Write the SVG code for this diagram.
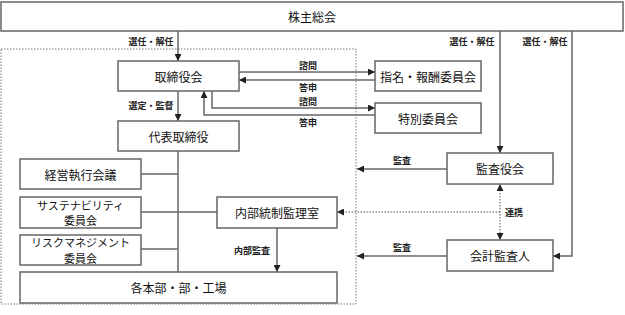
<svg xmlns="http://www.w3.org/2000/svg" width="625" height="315" viewBox="0 0 625 315">
<defs>
<marker id="ah" viewBox="0 0 10 10" refX="10" refY="5" markerWidth="7" markerHeight="7" markerUnits="userSpaceOnUse" orient="auto-start-reverse"><path d="M0,0 L10,5 L0,10 z" fill="#222"/></marker>
<style>
.box{fill:#fff;stroke:#666;stroke-width:1.5}
.t{font-family:"Noto Sans CJK JP","Noto Sans CJK SC",sans-serif;font-size:12px;fill:#111;text-anchor:middle;dominant-baseline:central}
.t2{font-size:11px}
.l{font-family:"Noto Sans CJK JP","Noto Sans CJK SC",sans-serif;font-size:9px;font-weight:bold;fill:#222;dominant-baseline:central}
.c{fill:none;stroke:#666;stroke-width:1.5}
.d{fill:none;stroke:#555;stroke-width:1;stroke-dasharray:1.5 1.5}
</style>
</defs>
<rect x="1" y="49" width="355" height="255" fill="none" stroke="#777" stroke-width="1" stroke-dasharray="1.5 1.5"/>
<g id="connectors">
<path class="c" d="M178,31 V61" marker-end="url(#ah)"/>
<path class="c" d="M178,91 V121" marker-end="url(#ah)"/>
<path class="c" d="M239,72 H375" marker-end="url(#ah)"/>
<path class="c" d="M375,80 H239" marker-end="url(#ah)"/>
<path class="c" d="M212,91 V108 H375" marker-end="url(#ah)"/>
<path class="c" d="M375,115 H204 V91" marker-end="url(#ah)"/>
<path class="c" d="M500,31 V153" marker-end="url(#ah)"/>
<path class="c" d="M572,31 V256 H553" marker-end="url(#ah)"/>
<path class="c" d="M447,169 H357" marker-end="url(#ah)"/>
<path class="c" d="M447,256 H357" marker-end="url(#ah)"/>
<path class="d" d="M500,184 V240" marker-start="url(#ah)" marker-end="url(#ah)"/>
<path class="d" d="M500,212 H337" marker-end="url(#ah)"/>
<path class="c" d="M178,151 V272"/>
<path class="c" d="M141,174 H178"/>
<path class="c" d="M141,212 H217"/>
<path class="c" d="M141,249 H178"/>
<path class="c" d="M277,228 V272" marker-end="url(#ah)"/>
<text class="l" x="151" y="41" text-anchor="middle">選任・解任</text>
<text class="l" x="151" y="105" text-anchor="middle">選定・監督</text>
<text class="l" x="308" y="65" text-anchor="middle">諮問</text>
<text class="l" x="308" y="87" text-anchor="middle">答申</text>
<text class="l" x="308" y="101" text-anchor="middle">諮問</text>
<text class="l" x="308" y="122" text-anchor="middle">答申</text>
<text class="l" x="472" y="41" text-anchor="middle">選任・解任</text>
<text class="l" x="545" y="41" text-anchor="middle">選任・解任</text>
<text class="l" x="402" y="160" text-anchor="middle">監査</text>
<text class="l" x="402" y="247" text-anchor="middle">監査</text>
<text class="l" x="514" y="212" text-anchor="middle">連携</text>
<text class="l" x="252" y="250" text-anchor="middle">内部監査</text>
</g>
<g id="shareholders"><rect class="box" x="1" y="2" width="622" height="29"/><text class="t" x="312" y="16.5">株主総会</text></g>
<g id="board"><rect class="box" x="118" y="61" width="121" height="30"/><text class="t" x="178.5" y="76">取締役会</text></g>
<g id="rep"><rect class="box" x="118" y="121" width="121" height="30"/><text class="t" x="178.5" y="136">代表取締役</text></g>
<g id="nomination"><rect class="box" x="375" y="61" width="106" height="30"/><text class="t" x="428" y="76">指名・報酬委員会</text></g>
<g id="special"><rect class="box" x="375" y="103" width="106" height="30"/><text class="t" x="428" y="118">特別委員会</text></g>
<g id="auditboard"><rect class="box" x="447" y="153" width="106" height="31"/><text class="t" x="500" y="168.5">監査役会</text></g>
<g id="auditor"><rect class="box" x="447" y="240" width="106" height="31"/><text class="t" x="500" y="255.5">会計監査人</text></g>
<g id="exec"><rect class="box" x="20" y="159" width="121" height="30"/><text class="t" x="80.5" y="174">経営執行会議</text></g>
<g id="sustain"><rect class="box" x="20" y="197" width="121" height="31"/><text class="t t2" x="80.5" y="204.5">サステナビリティ</text><text class="t t2" x="80.5" y="220">委員会</text></g>
<g id="risk"><rect class="box" x="20" y="235" width="121" height="30"/><text class="t t2" x="80.5" y="242">リスクマネジメント</text><text class="t t2" x="80.5" y="257.5">委員会</text></g>
<g id="internal"><rect class="box" x="217" y="197" width="120" height="31"/><text class="t" x="277" y="212.5">内部統制監理室</text></g>
<g id="divisions"><rect class="box" x="20" y="272" width="317" height="31"/><text class="t" x="178.5" y="287.5">各本部・部・工場</text></g>
</svg>
